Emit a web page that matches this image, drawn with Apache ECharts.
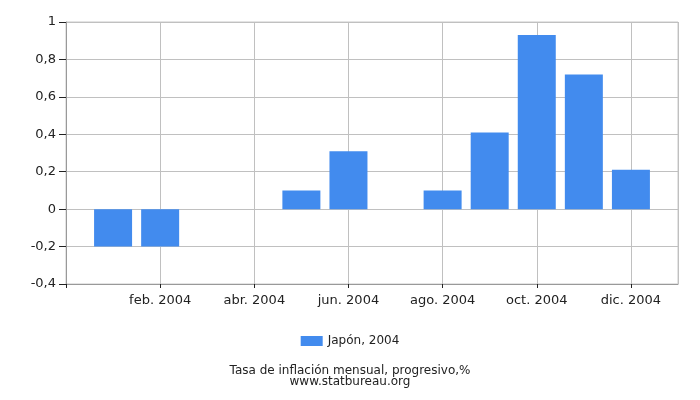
<!DOCTYPE html>
<html><head><meta charset="utf-8">
<script src="https://cdn.jsdelivr.net/npm/echarts@6/dist/echarts.min.js"></script>
<style>html,body{margin:0;padding:0;background:#fff}#c{width:700px;height:400px}</style>
</head><body><div id="c"></div>
<script>
var months = ['ene. 2004','feb. 2004','mar. 2004','abr. 2004','may. 2004','jun. 2004','jul. 2004','ago. 2004','sep. 2004','oct. 2004','nov. 2004','dic. 2004'];
var values = [-0.2, -0.2, 0, 0, 0.1, 0.31, 0, 0.1, 0.41, 0.93, 0.72, 0.21];
var seriesName = 'Japón, 2004';
var yTicks = [-0.4, -0.2, 0, 0.2, 0.4, 0.6, 0.8, 1];

// x position: month index shifted so Feb = 0
var data = values.map(function (v, i) { return [i - 1, v]; });
var font = 'DejaVu Sans';
var chart = echarts.init(document.getElementById('c'));
chart.setOption({
  animation: false,
  grid: { left: 66, right: 22, top: 22, bottom: 116, show: true, borderColor: '#c8c8c8', borderWidth: 1, backgroundColor: 'transparent' },
  xAxis: {
    type: 'value', min: -2, max: 11, interval: 2,
    axisLine: { show: true, onZero: false, lineStyle: { color: '#999' } },
    axisTick: { show: true, length: 4, lineStyle: { color: '#222' } },
    splitLine: { show: true, lineStyle: { color: '#c0c0c0' } },
    axisLabel: { color: '#222', fontFamily: font, fontSize: 13, margin: 10, showMaxLabel: false,
      formatter: function (v) { var i = Math.round(v) + 1; return (v >= 0 && i < 12) ? months[i] : ''; } }
  },
  yAxis: {
    type: 'value', min: yTicks[0], max: yTicks[yTicks.length - 1], interval: 0.2,
    axisLine: { show: true, onZero: false, lineStyle: { color: '#999' } },
    axisTick: { show: true, length: 7, lineStyle: { color: '#222' } },
    splitLine: { show: true, lineStyle: { color: '#c0c0c0' } },
    axisLabel: { color: '#222', fontFamily: font, fontSize: 13, margin: 10,
      formatter: function (v) { return String(Math.round(v * 10) / 10).replace('.', ','); } }
  },
  legend: {
    bottom: 48, left: 'center', itemWidth: 22, itemHeight: 10, itemGap: 5, icon: 'rect',
    textStyle: { color: '#222', fontFamily: font, fontSize: 12 },
    data: [seriesName]
  },
  title: {
    text: 'Tasa de inflación mensual, progresivo,%\nwww.statbureau.org',
    left: 'center', bottom: 7,
    textStyle: { color: '#222', fontFamily: font, fontSize: 12, fontWeight: 'normal', lineHeight: 11 }
  },
  series: [{
    name: seriesName, type: 'bar', data: data, barWidth: 38,
    itemStyle: { color: '#428bee' }
  }]
});
</script></body></html>
